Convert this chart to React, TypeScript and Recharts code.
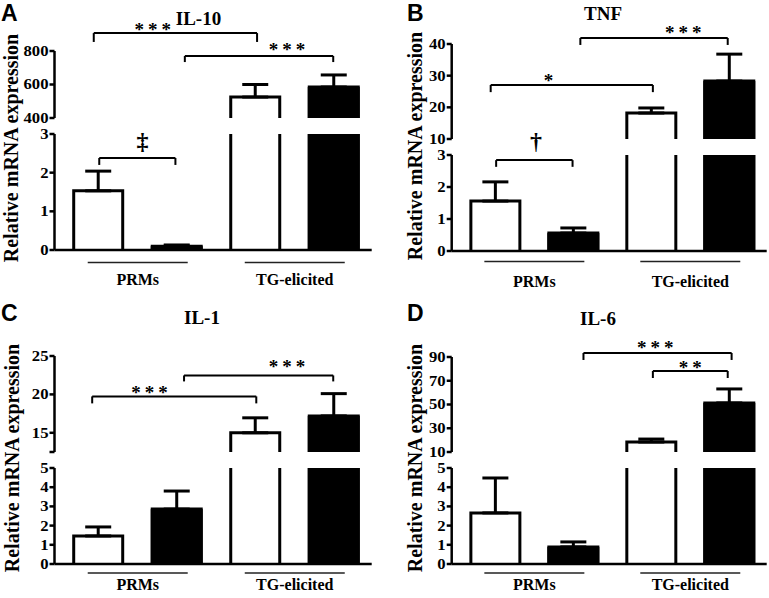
import React from 'react';
import { BarChart, Bar, XAxis, YAxis, ErrorBar, ReferenceLine, ReferenceDot } from 'recharts';

const SERIF = "'Liberation Serif', 'Times New Roman', serif";
const SANS = "'Liberation Sans', Arial, sans-serif";

// ---------- data ----------
const groupLabels = ['PRMs', 'TG-elicited'];
const barPositions = [0, 1, 2, 3]; // PRMs white, PRMs black, TG white, TG black
const groupTickPositions = [0.5, 2.5];
const cytokines = ['IL-10', 'TNF', 'IL-1', 'IL-6'];
const panelLetters = ['A', 'B', 'C', 'D'];

const il10Mean = [1.53, 0.1, 525, 585];
const il10Sem = [0.51, 0.03, 75, 72];
const il10LowerTicks = [0, 1, 2, 3];
const il10UpperTicks = [400, 600, 800];

const tnfMean = [1.56, 0.56, 18.2, 28.3];
const tnfSem = [0.6, 0.16, 1.6, 8.5];
const tnfLowerTicks = [0, 1, 2, 3];
const tnfUpperTicks = [10, 20, 30, 40];

const il1Mean = [1.46, 2.86, 15.0, 17.2];
const il1Sem = [0.47, 0.94, 1.95, 2.9];
const il1LowerTicks = [0, 1, 2, 3, 4, 5];
const il1UpperTicks = [12.5, 15, 20, 25];
const il1UnlabelledTicks = [12.5];

const il6Mean = [2.66, 0.89, 18.4, 51.3];
const il6Sem = [1.82, 0.26, 2.5, 11.8];
const il6LowerTicks = [0, 1, 2, 3, 4, 5];
const il6UpperTicks = [10, 30, 50, 70, 90];

// significance brackets: x in bar-position units, y in data units
const il10UpperBrackets = [
  { x1: -0.06, x2: 2.02, y: 907, yEnd: 854 },
  { x1: 1.1, x2: 2.99, y: 770, yEnd: 734 },
];
const il10LowerBrackets = [{ x1: 0.01, x2: 0.98, y: 2.38, yEnd: 2.2 }];
const il10UpperMarks = [
  { x: 0.69, y: 943, text: '***' },
  { x: 2.4, y: 824, text: '***' },
];
const il10LowerMarks = [{ x: 0.56, y: 2.79, text: '‡' }];

const tnfUpperBrackets = [
  { x1: 1.09, x2: 2.98, y: 41.9, yEnd: 39.7 },
  { x1: -0.06, x2: 2.02, y: 27.05, yEnd: 24.8 },
];
const tnfLowerBrackets = [{ x1: 0.01, x2: 0.99, y: 2.84, yEnd: 2.63 }];
const tnfUpperMarks = [
  { x: 2.41, y: 44.4, text: '***' },
  { x: 0.68, y: 29.3, text: '*' },
];
const tnfLowerMarks = [{ x: 0.52, y: 3.4, text: '†' }];

const il1UpperBrackets = [
  { x1: -0.08, x2: 2.01, y: 19.74, yEnd: 18.83 },
  { x1: 1.09, x2: 2.99, y: 22.47, yEnd: 21.69 },
];
const il1UpperMarks = [
  { x: 0.65, y: 20.5, text: '***' },
  { x: 2.4, y: 23.9, text: '***' },
];

const il6UpperBrackets = [
  { x1: 1.13, x2: 3.03, y: 93.4, yEnd: 87.5 },
  { x1: 2.02, x2: 2.98, y: 78.2, yEnd: 72.3 },
];
const il6UpperMarks = [
  { x: 2.05, y: 100, text: '***' },
  { x: 2.5, y: 83.3, text: '**' },
];

// ---------- styles / layout ----------
const BAR_FILLS = ['#ffffff', '#000000', '#ffffff', '#000000'];
const X_DOMAIN: [number, number] = [-0.56, 3.48];
const Y_AXIS_W = 40;
const CH_H = 300;

const layouts = [
  { left: 0, top: 0, width: 385, axisX: 54.5, axisEnd: 371.7, upperTop: 51, upperBottom: 118, lowerTop: 134, lowerBottom: 250, lineDy: 12.5, textDy: 35, letterX: 1, letterY: 21, titleX: 198.5, titleY: 25, yLabelX: 18, yLabelY: 148 },
  { left: 385, top: 0, width: 384, axisX: 66.7, axisEnd: 381.7, upperTop: 44, upperBottom: 139, lowerTop: 155, lowerBottom: 251, lineDy: 10.5, textDy: 36, letterX: 22, letterY: 21, titleX: 218, titleY: 20, yLabelX: 37, yLabelY: 146 },
  { left: 0, top: 300, width: 385, axisX: 54.5, axisEnd: 371.7, upperTop: 56, upperBottom: 152, lowerTop: 168, lowerBottom: 264, lineDy: 9, textDy: 26, letterX: 1, letterY: 21, titleX: 202, titleY: 24, yLabelX: 19, yLabelY: 158 },
  { left: 385, top: 300, width: 384, axisX: 66.7, axisEnd: 381.7, upperTop: 57, upperBottom: 152, lowerTop: 168, lowerBottom: 264, lineDy: 9, textDy: 26, letterX: 22, letterY: 21, titleX: 213, titleY: 25, yLabelX: 37, yLabelY: 158 },
];

const panels = [
  { mean: il10Mean, sem: il10Sem, lowerTicks: il10LowerTicks, upperTicks: il10UpperTicks, unlabelled: [] as number[], upperBrackets: il10UpperBrackets, lowerBrackets: il10LowerBrackets, upperMarks: il10UpperMarks, lowerMarks: il10LowerMarks },
  { mean: tnfMean, sem: tnfSem, lowerTicks: tnfLowerTicks, upperTicks: tnfUpperTicks, unlabelled: [] as number[], upperBrackets: tnfUpperBrackets, lowerBrackets: tnfLowerBrackets, upperMarks: tnfUpperMarks, lowerMarks: tnfLowerMarks },
  { mean: il1Mean, sem: il1Sem, lowerTicks: il1LowerTicks, upperTicks: il1UpperTicks, unlabelled: il1UnlabelledTicks, upperBrackets: il1UpperBrackets, lowerBrackets: [], upperMarks: il1UpperMarks, lowerMarks: [] },
  { mean: il6Mean, sem: il6Sem, lowerTicks: il6LowerTicks, upperTicks: il6UpperTicks, unlabelled: [] as number[], upperBrackets: il6UpperBrackets, lowerBrackets: [], upperMarks: il6UpperMarks, lowerMarks: [] },
];

const OpenBar = (props: any) => {
  const { x, y, width, height, payload } = props;
  if (x == null || y == null || !width || height == null || !isFinite(height) || !isFinite(y) || height <= 0) return null;
  const sw = 3;
  const xl = x + sw / 2;
  const xr = x + width - sw / 2;
  const bottom = y + height;
  const d = payload.openTop
    ? `M${xl},${bottom}L${xl},${y}M${xr},${y}L${xr},${bottom}`
    : `M${xl},${bottom}L${xl},${y}L${xr},${y}L${xr},${bottom}`;
  return (
    <g>
      <rect x={x} y={y} width={width} height={height} fill={payload.fill} />
      <path d={d} fill="none" stroke="#000" strokeWidth={sw} strokeLinecap="square" />
    </g>
  );
};

const GroupTick = (props: any) => {
  const { x, y, payload, lineDy, textDy } = props;
  const idx = groupTickPositions.indexOf(payload.value);
  return (
    <g>
      <line x1={x - 50} x2={x + 50} y1={y + lineDy} y2={y + lineDy} stroke="#222" strokeWidth={1.5} />
      <text x={x} y={y + textDy} textAnchor="middle" fontFamily={SERIF} fontWeight="bold" fontSize={16} fill="#000">
        {groupLabels[idx]}
      </text>
    </g>
  );
};

const YTick = (props: any) => {
  const { x, y, payload, unlabelled } = props;
  if (unlabelled.includes(payload.value)) return null;
  return (
    <text
      transform={`translate(${x},${y}) scale(1.15,0.95)`}
      dy="0.36em"
      textAnchor="end"
      fontFamily={SERIF}
      fontWeight="bold"
      fontSize={14.5}
      fill="#000"
    >
      {payload.value}
    </text>
  );
};

const markShape = (text: string) => (p: any) => {
  const isDagger = text === '‡' || text === '†';
  return (
    <text
      x={p.cx}
      y={p.cy}
      dx={isDagger ? 0 : 2}
      dy={isDagger ? '0.3em' : '0.47em'}
      textAnchor="middle"
      fontFamily={SERIF}
      fontWeight="bold"
      fontSize={isDagger ? 24 : 19}
      letterSpacing={isDagger ? 0 : 4}
      fill="#000"
    >
      {text}
    </text>
  );
};

function SubChart({ lay, rows, yDomain, yTicks, unlabelled, plotTop, plotBottom, lower, brackets, marks }: any) {
  const marginLeft = lay.axisX - Y_AXIS_W;
  const marginRight = lay.width - lay.axisEnd;
  const xAxisH = CH_H - plotBottom;
  return (
    <div style={{ position: 'absolute', left: lay.left, top: lay.top }}>
      <BarChart
        width={lay.width}
        height={CH_H}
        data={rows}
        margin={{ top: plotTop, right: marginRight, left: marginLeft, bottom: lower ? 0 : CH_H - plotBottom }}
      >
        <XAxis
          type="number"
          dataKey="x"
          domain={X_DOMAIN}
          allowDataOverflow
          ticks={groupTickPositions}
          interval={0}
          hide={!lower}
          height={lower ? xAxisH : 0}
          axisLine={{ stroke: '#000', strokeWidth: 2.5 }}
          tickLine={false}
          tickSize={0}
          tickMargin={0}
          tick={<GroupTick lineDy={lay.lineDy} textDy={lay.textDy} />}
        />
        <YAxis
          type="number"
          domain={yDomain}
          ticks={yTicks}
          allowDataOverflow
          interval={0}
          width={Y_AXIS_W}
          tickSize={5}
          tickMargin={1}
          axisLine={{ stroke: '#000', strokeWidth: 2.5 }}
          tickLine={{ stroke: '#000', strokeWidth: 2.5 }}
          tick={<YTick unlabelled={unlabelled} />}
        />
        <Bar dataKey="v" barSize={52} isAnimationActive={false} shape={OpenBar}>
          <ErrorBar dataKey="err" width={13} strokeWidth={3} stroke="#000" direction="y" isAnimationActive={false} />
        </Bar>
        {brackets.map((b: any, i: number) => [
          <ReferenceLine key={`h${i}`} segment={[{ x: b.x1, y: b.y }, { x: b.x2, y: b.y }]} stroke="#000" strokeWidth={2} ifOverflow="visible" />,
          <ReferenceLine key={`l${i}`} segment={[{ x: b.x1, y: b.y }, { x: b.x1, y: b.yEnd }]} stroke="#000" strokeWidth={2} ifOverflow="visible" />,
          <ReferenceLine key={`r${i}`} segment={[{ x: b.x2, y: b.y }, { x: b.x2, y: b.yEnd }]} stroke="#000" strokeWidth={2} ifOverflow="visible" />,
        ])}
        {marks.map((m: any, i: number) => (
          <ReferenceDot key={`m${i}`} x={m.x} y={m.y} r={1} ifOverflow="visible" shape={markShape(m.text)} />
        ))}
      </BarChart>
    </div>
  );
}

function PanelText({ lay, letter, title }: any) {
  return (
    <svg width={lay.width} height={CH_H} style={{ position: 'absolute', left: lay.left, top: lay.top, pointerEvents: 'none' }}>
      <text x={lay.letterX} y={lay.letterY} fontFamily={SANS} fontWeight="bold" fontSize={23} fill="#000">{letter}</text>
      <text x={lay.titleX} y={lay.titleY} textAnchor="middle" fontFamily={SERIF} fontWeight="bold" fontSize={19} fill="#000">{title}</text>
      <text transform={`translate(${lay.yLabelX},${lay.yLabelY}) rotate(-90)`} textAnchor="middle" fontFamily={SERIF} fontWeight="bold" fontSize={20} fill="#000">
        Relative mRNA expression
      </text>
    </svg>
  );
}

function Panel({ idx }: { idx: number }) {
  const p = panels[idx];
  const lay = layouts[idx];
  const lowerMax = p.lowerTicks[p.lowerTicks.length - 1];
  const upperMin = p.upperTicks[0];
  const lowerRows = barPositions.map((x, i) => ({
    x,
    v: Math.min(p.mean[i], lowerMax),
    err: p.mean[i] <= lowerMax ? [0, p.sem[i]] : null,
    openTop: p.mean[i] > lowerMax,
    fill: BAR_FILLS[i],
  }));
  const upperRows = barPositions.map((x, i) => ({
    x,
    v: p.mean[i] >= upperMin ? p.mean[i] : null,
    err: p.mean[i] >= upperMin ? [0, p.sem[i]] : null,
    openTop: false,
    fill: BAR_FILLS[i],
  }));
  return (
    <>
      <SubChart
        lay={lay}
        rows={upperRows}
        yDomain={[upperMin, p.upperTicks[p.upperTicks.length - 1]]}
        yTicks={p.upperTicks}
        unlabelled={p.unlabelled}
        plotTop={lay.upperTop}
        plotBottom={lay.upperBottom}
        lower={false}
        brackets={p.upperBrackets}
        marks={p.upperMarks}
      />
      <SubChart
        lay={lay}
        rows={lowerRows}
        yDomain={[0, lowerMax]}
        yTicks={p.lowerTicks}
        unlabelled={[]}
        plotTop={lay.lowerTop}
        plotBottom={lay.lowerBottom}
        lower={true}
        brackets={p.lowerBrackets}
        marks={p.lowerMarks}
      />
      <PanelText lay={lay} letter={panelLetters[idx]} title={cytokines[idx]} />
    </>
  );
}

export default function App() {
  return (
    <div style={{ position: 'absolute', left: 0, top: 0, width: 769, height: 598, background: '#fff', overflow: 'hidden' }}>
      {[0, 1, 2, 3].map((i) => (
        <Panel key={i} idx={i} />
      ))}
    </div>
  );
}
